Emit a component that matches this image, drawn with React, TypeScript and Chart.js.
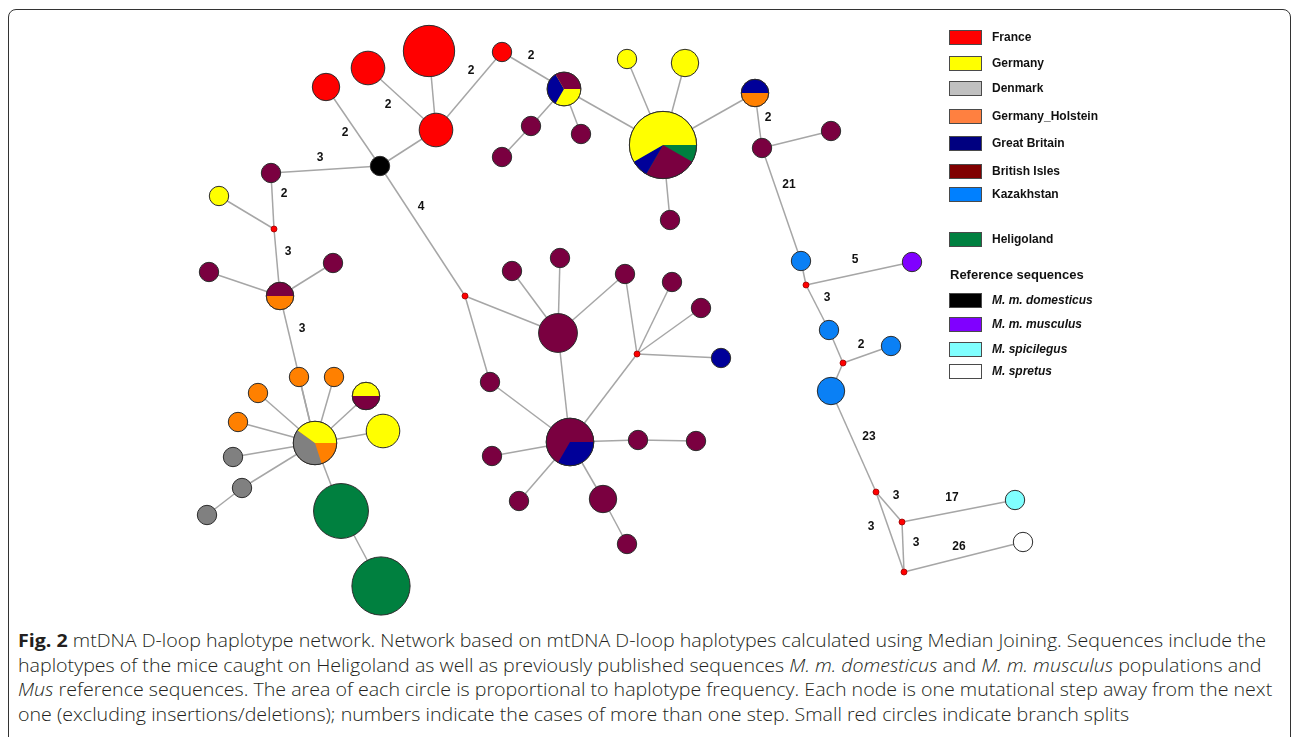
import React, { useEffect, useLayoutEffect, useRef } from "react";
import { Chart, registerables } from "chart.js";

Chart.register(...registerables);

// ---------- populations ----------
const POPULATIONS = [
  "France",
  "Germany",
  "Denmark",
  "Germany_Holstein",
  "Great Britain",
  "British Isles",
  "Kazakhstan",
  "Heligoland",
  "M. m. domesticus",
  "M. m. musculus",
  "M. spicilegus",
  "M. spretus",
];
const LEGEND_COLORS = [
  "#FF0000", "#FFFF00", "#C0C0C0", "#FF8040", "#000080", "#800000",
  "#0080FF", "#008040", "#000000", "#8000FF", "#80FFFF", "#FFFFFF",
];
const NODE_COLORS = [
  "#FF0000", "#FFFF00", "#808080", "#FF8000", "#000099", "#7A0040",
  "#0A80F5", "#00803F", "#000000", "#8000FF", "#80FFFF", "#FFFFFF",
];
const LEGEND_ITALIC = [false, false, false, false, false, false, false, false, true, true, true, true];

// ---------- haplotype nodes (x, y in network layout units; composition = [population, count]) ----------
const HAP_X = [
  326, 368, 429, 436, 380, 271, 219, 502, 564, 627,
  685, 663, 670, 531, 502, 581, 755, 762, 831, 801,
  912, 829, 891, 831, 1015, 1023, 209, 333, 280, 299,
  334, 258, 238, 366, 383, 315, 233, 242, 207, 341,
  381, 512, 560, 625, 672, 701, 721, 558, 490, 570,
  638, 696, 492, 519, 603, 627,
];
const HAP_Y = [
  87, 68, 51, 130, 166, 173, 196, 52, 89, 59,
  63, 145, 220, 126, 157, 134, 93, 148, 131, 261,
  262, 330, 346, 391, 500, 542, 272, 263, 296, 377,
  377, 393, 422, 396, 431, 443, 457, 488, 515, 511,
  586, 271, 258, 274, 282, 308, 358, 333, 382, 442,
  440, 441, 456, 501, 499, 544,
];
const HAP_COMP: number[][][] = [
  [[0, 2]], [[0, 3]], [[0, 7]], [[0, 3]], [[8, 1]], [[5, 1]], [[1, 1]], [[0, 1]],
  [[1, 1], [4, 1], [5, 1]],
  [[1, 1]], [[1, 2]],
  [[7, 1], [5, 3], [4, 1], [1, 7]],
  [[5, 1]], [[5, 1]], [[5, 1]], [[5, 1]],
  [[3, 1], [4, 1]],
  [[5, 1]], [[5, 1]], [[6, 1]], [[9, 1]], [[6, 1]], [[6, 1]], [[6, 2]],
  [[10, 1]], [[11, 1]], [[5, 1]], [[5, 1]],
  [[3, 1], [5, 1]],
  [[3, 1]], [[3, 1]], [[3, 1]], [[3, 1]],
  [[5, 1], [1, 1]],
  [[1, 3]],
  [[3, 1], [2, 2], [1, 2]],
  [[2, 1]], [[2, 1]], [[2, 1]], [[7, 8]], [[7, 9]],
  [[5, 1]], [[5, 1]], [[5, 1]], [[5, 1]], [[5, 1]], [[4, 1]], [[5, 4]], [[5, 1]],
  [[4, 2], [5, 4]],
  [[5, 1]], [[5, 1]], [[5, 1]], [[5, 1]], [[5, 2]], [[5, 1]],
];

// ---------- median vectors (branch splits) ----------
const MED_X = [274, 465, 637, 806, 843, 876, 902, 904];
const MED_Y = [229, 296, 354, 285, 363, 492, 522, 572];

// ---------- links: [from, to, mutational steps, label x, label y] ----------
const EDGES: [string, string, number, number?, number?][] = [
  ["h4", "h3", 1], ["h4", "h0", 2, 345, 133], ["h3", "h1", 2, 388, 105], ["h3", "h2", 1],
  ["h3", "h7", 2, 471, 71], ["h7", "h8", 2, 531, 56], ["h4", "h5", 3, 320, 158],
  ["h4", "m1", 4, 421, 207], ["h5", "m0", 2, 284, 194], ["h6", "m0", 1],
  ["m0", "h28", 3, 288, 252], ["h28", "h26", 1], ["h28", "h27", 1], ["h28", "h35", 3, 302, 329],
  ["h35", "h29", 1], ["h35", "h30", 1], ["h35", "h31", 1], ["h35", "h32", 1], ["h35", "h33", 1],
  ["h35", "h34", 1], ["h35", "h36", 1], ["h35", "h37", 1], ["h37", "h38", 1], ["h35", "h39", 1],
  ["h39", "h40", 1],
  ["h8", "h13", 1], ["h13", "h14", 1], ["h8", "h15", 1], ["h8", "h11", 1],
  ["h11", "h9", 1], ["h11", "h10", 1], ["h11", "h12", 1], ["h11", "h16", 1],
  ["h16", "h17", 2, 768, 118], ["h17", "h18", 1], ["h17", "h19", 21, 789, 185],
  ["h19", "m3", 1], ["m3", "h20", 5, 855, 260], ["m3", "h21", 3, 827, 298],
  ["h21", "m4", 1], ["m4", "h22", 2, 861, 345], ["m4", "h23", 1],
  ["h23", "m5", 23, 869, 437], ["m5", "m6", 3, 896, 496], ["m5", "m7", 3, 871, 527],
  ["m6", "m7", 3, 916, 543], ["m6", "h24", 17, 952, 498], ["m7", "h25", 26, 959, 547],
  ["m1", "h47", 1], ["m1", "h48", 1], ["h48", "h49", 1],
  ["h47", "h41", 1], ["h47", "h42", 1], ["h47", "h43", 1], ["h47", "h49", 1],
  ["h43", "m2", 1], ["m2", "h44", 1], ["m2", "h45", 1], ["m2", "h46", 1], ["m2", "h49", 1],
  ["h49", "h50", 1], ["h50", "h51", 1], ["h49", "h52", 1], ["h49", "h53", 1],
  ["h49", "h54", 1], ["h54", "h55", 1],
];

// ---------- legend ----------
const LEGEND_ROW_TOP = [30, 56, 81, 109, 136, 164, 187, 232, 293, 317, 342, 364];
const REF_HEADING = "Reference sequences";

// ---------- caption ----------
type Seg = { t: string; b?: boolean; i?: boolean };
const CAPTION_LINES: Seg[][] = [
  [
    { t: "Fig. 2", b: true },
    { t: " mtDNA D-loop haplotype network. Network based on mtDNA D-loop haplotypes calculated using Median Joining. Sequences include the" },
  ],
  [
    { t: "haplotypes of the mice caught on Heligoland as well as previously published sequences " },
    { t: "M. m. domesticus", i: true },
    { t: " and " },
    { t: "M. m. musculus", i: true },
    { t: " populations and" },
  ],
  [
    { t: "Mus", i: true },
    { t: " reference sequences. The area of each circle is proportional to haplotype frequency. Each node is one mutational step away from the next" },
  ],
  [{ t: "one (excluding insertions/deletions); numbers indicate the cases of more than one step. Small red circles indicate branch splits" }],
];
const CAPTION_FIRST_LINE_WIDTH = 1248;
const CAPTION_CENTERS = [640, 665, 689, 714];

const RADIUS_UNIT = 9.7;
const total = (c: number[][]) => c.reduce((s, p) => s + p[1], 0);
const radiusOf = (c: number[][]) => RADIUS_UNIT * Math.sqrt(total(c));

function posOf(id: string) {
  const k = parseInt(id.slice(1), 10);
  return id[0] === "h" ? { x: HAP_X[k], y: HAP_Y[k] } : { x: MED_X[k], y: MED_Y[k] };
}

export default function App() {
  const canvasRef = useRef<HTMLCanvasElement | null>(null);
  const lineRefs = useRef<(HTMLDivElement | null)[]>([]);

  useEffect(() => {
    const canvas = canvasRef.current;
    if (!canvas) return;

    const edgeSets = EDGES.map((e) => ({
      type: "scatter" as const,
      data: [posOf(e[0]), posOf(e[1])],
      showLine: true,
      borderColor: "#A6A6A6",
      borderWidth: 1.5,
      pointRadius: 0,
      order: 3,
    }));

    const nodeSet = {
      type: "scatter" as const,
      data: HAP_X.map((x, i) => ({ x, y: HAP_Y[i] })),
      pointRadius: HAP_COMP.map((c) => radiusOf(c)),
      pointBackgroundColor: HAP_COMP.map((c) => NODE_COLORS[c[0][0]]),
      pointBorderColor: "#2B2B2B",
      pointBorderWidth: 1,
      order: 0,
    };

    const medSet = {
      type: "scatter" as const,
      data: MED_X.map((x, i) => ({ x, y: MED_Y[i] })),
      pointRadius: 3,
      pointBackgroundColor: "#FF0000",
      pointBorderColor: "#990000",
      pointBorderWidth: 0.8,
      order: 1,
    };

    const datasets: any[] = [nodeSet, medSet, ...edgeSets];

    const piePlugin = {
      id: "pies",
      afterDatasetsDraw(chart: any) {
        const ctx = chart.ctx;
        const meta = chart.getDatasetMeta(0);
        meta.data.forEach((pt: any, i: number) => {
          const comp = HAP_COMP[i];
          if (comp.length < 2) return;
          const tot = total(comp);
          const r = radiusOf(comp);
          let a = 0;
          ctx.save();
          comp.forEach(([p, c]) => {
            const b = a + (Math.PI * 2 * c) / tot;
            ctx.beginPath();
            ctx.moveTo(pt.x, pt.y);
            ctx.arc(pt.x, pt.y, r, a, b);
            ctx.closePath();
            ctx.fillStyle = NODE_COLORS[p];
            ctx.fill();
            a = b;
          });
          ctx.beginPath();
          ctx.arc(pt.x, pt.y, r, 0, Math.PI * 2);
          ctx.strokeStyle = "#2B2B2B";
          ctx.lineWidth = 1;
          ctx.stroke();
          ctx.restore();
        });
      },
    };

    const labelPlugin = {
      id: "edgeLabels",
      afterDatasetsDraw(chart: any) {
        const ctx = chart.ctx;
        const xs = chart.scales.x;
        const ys = chart.scales.y;
        ctx.save();
        ctx.font = "bold 12px 'Liberation Sans', Arial, sans-serif";
        ctx.fillStyle = "#111111";
        ctx.textAlign = "center";
        ctx.textBaseline = "middle";
        EDGES.forEach((e) => {
          if (e[2] > 1 && e[3] !== undefined && e[4] !== undefined) {
            ctx.fillText(String(e[2]), xs.getPixelForValue(e[3]), ys.getPixelForValue(e[4]));
          }
        });
        ctx.restore();
      },
    };

    const chart = new Chart(canvas, {
      type: "scatter",
      data: { datasets },
      options: {
        animation: false,
        responsive: false,
        devicePixelRatio: 1,
        events: [],
        layout: { padding: 0, autoPadding: false },
        plugins: { legend: { display: false }, tooltip: { enabled: false } },
        scales: {
          x: { type: "linear", min: 0, max: 1292, display: false },
          y: { type: "linear", min: 0, max: 620, reverse: true, display: false },
        },
      },
      plugins: [piePlugin, labelPlugin],
    } as any);

    return () => chart.destroy();
  }, []);

  useLayoutEffect(() => {
    const fit = () => {
      const els = lineRefs.current;
      els.forEach((el) => {
        if (el) el.style.transform = "none";
      });
      const first = els[0];
      if (!first) return;
      const w = first.scrollWidth;
      if (w <= 0) return;
      const k = CAPTION_FIRST_LINE_WIDTH / w;
      els.forEach((el) => {
        if (el) el.style.transform = `scaleX(${k})`;
      });
    };
    fit();
    if ((document as any).fonts && (document as any).fonts.ready) {
      (document as any).fonts.ready.then(fit);
    }
  }, []);

  const legendFont = "'Liberation Sans', Arial, sans-serif";

  return (
    <div
      style={{
        position: "absolute",
        left: 0,
        top: 0,
        width: 1292,
        height: 737,
        overflow: "hidden",
        background: "#FFFFFF",
      }}
    >
      <div
        style={{
          position: "absolute",
          left: 8,
          top: 9,
          width: 1283,
          height: 800,
          border: "1.5px solid #333333",
          borderRadius: 8,
          boxSizing: "border-box",
        }}
      />
      <canvas
        ref={canvasRef}
        width={1292}
        height={620}
        style={{ position: "absolute", left: 0, top: 0, width: 1292, height: 620 }}
      />
      {POPULATIONS.map((name, i) => (
        <React.Fragment key={name}>
          <div
            style={{
              position: "absolute",
              left: 949,
              top: LEGEND_ROW_TOP[i],
              width: 33,
              height: 15,
              boxSizing: "border-box",
              border: "1.5px solid #4A4A4A",
              background: LEGEND_COLORS[i],
            }}
          />
          <div
            style={{
              position: "absolute",
              left: 992,
              top: LEGEND_ROW_TOP[i],
              height: 15,
              lineHeight: "15px",
              fontFamily: legendFont,
              fontWeight: "bold",
              fontStyle: LEGEND_ITALIC[i] ? "italic" : "normal",
              fontSize: 12,
              color: "#111111",
              whiteSpace: "nowrap",
            }}
          >
            {name}
          </div>
        </React.Fragment>
      ))}
      <div
        style={{
          position: "absolute",
          left: 950,
          top: 267,
          height: 16,
          lineHeight: "16px",
          fontFamily: legendFont,
          fontWeight: "bold",
          fontSize: 13,
          color: "#111111",
          whiteSpace: "nowrap",
        }}
      >
        {REF_HEADING}
      </div>
      {CAPTION_LINES.map((segs, i) => (
        <div
          key={i}
          ref={(el) => {
            lineRefs.current[i] = el;
          }}
          style={{
            position: "absolute",
            left: 18,
            top: CAPTION_CENTERS[i] - 12,
            height: 24,
            lineHeight: "24px",
            fontFamily: "'Open Sans', 'Noto Sans', sans-serif",
            fontWeight: 300,
            fontSize: 18,
            color: "#231F20",
            whiteSpace: "nowrap",
            transformOrigin: "0 50%",
          }}
        >
          {segs.map((s, j) => (
            <span
              key={j}
              style={{
                fontWeight: s.b ? 700 : 300,
                fontStyle: s.i ? "italic" : "normal",
              }}
            >
              {s.t}
            </span>
          ))}
        </div>
      ))}
    </div>
  );
}
